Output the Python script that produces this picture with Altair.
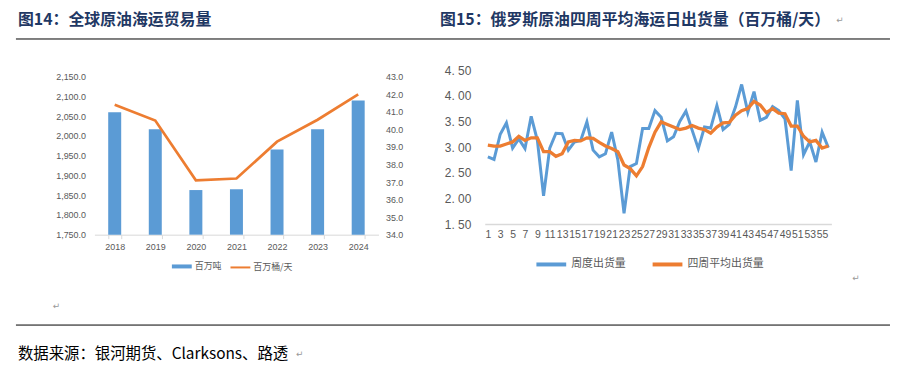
import altair as alt
import pandas as pd

W, H = 888, 355
BLUE = "#5B9BD5"
ORANGE = "#ED7D31"
GREY = "#595959"
CJK = "Noto Sans CJK SC"
NUM = "Liberation Sans"

# ---- left chart data (图14) ----
years = ["2018", "2019", "2020", "2021", "2022", "2023", "2024"]
tons = [2060, 2017, 1863, 1865, 1966, 2017, 2090]          # 百万吨
bbl = [41.4, 40.5, 37.1, 37.2, 39.3, 40.55, 42.0]           # 百万桶/天

# ---- right chart data (图15) ----
weeks = list(range(1, 57))
weekly = [2.81, 2.76, 3.25, 3.47, 2.98, 3.16, 2.97, 3.60, 3.13, 2.05,
          2.98, 3.27, 3.26, 2.94, 3.10, 3.13, 3.49, 2.94, 2.81, 2.87,
          3.29, 2.75, 1.71, 2.62, 2.68, 3.36, 3.36, 3.71, 3.58, 3.12,
          3.20, 3.50, 3.70, 3.33, 2.97, 3.39, 3.37, 3.81, 3.34, 3.44,
          3.78, 4.22, 3.68, 4.08, 3.52, 3.58, 3.79, 3.71, 3.55, 2.54,
          3.91, 2.85, 3.10, 2.71, 3.29, 2.99]
avg4 = [3.04, 3.02, 3.02, 3.06, 3.10, 3.21, 3.13, 3.18, 3.18, 2.91,
        2.91, 2.82, 2.87, 3.10, 3.13, 3.12, 3.18, 3.17, 3.09, 3.02,
        2.97, 2.91, 2.65, 2.58, 2.44, 2.62, 2.99, 3.29, 3.49, 3.44,
        3.39, 3.34, 3.37, 3.42, 3.37, 3.34, 3.27, 3.39, 3.47, 3.48,
        3.62, 3.71, 3.75, 3.89, 3.82, 3.67, 3.75, 3.66, 3.65, 3.41,
        3.41, 3.21, 3.10, 3.13, 2.98, 3.02]
odd_weeks = list(range(1, 56, 2))

titles = ["图14：全球原油海运贸易量", "图15：俄罗斯原油四周平均海运日出货量（百万桶/天）"]
source = "数据来源：银河期货、Clarksons、路透"
series_left = ["百万吨", "百万桶/天"]
series_right = ["周度出货量", "四周平均出货量"]

# ---------------- left chart ----------------
left_df = pd.DataFrame({"year": years, "tons": tons, "bbl": bbl,
                        "s1": series_left[0], "s2": series_left[1]})

xL = alt.X("year:O",
           scale=alt.Scale(range=[87, 373], paddingInner=0.68, paddingOuter=0.34),
           axis=alt.Axis(orient="bottom", offset=227 - H, title=None, labelAngle=0,
                         domainColor="#D9D9D9", ticks=True, tickBand="extent",
                         tickSize=4, tickColor="#D9D9D9", labelPadding=4,
                         labelFontSize=9, labelColor=GREY, labelFont=NUM))

bars = alt.Chart(left_df).mark_bar().encode(
    x=xL,
    y=alt.Y("tons:Q",
            scale=alt.Scale(domain=[1750, 2150], range=[227, 68], nice=False,
                            zero=False, clamp=True),
            axis=alt.Axis(orient="left", offset=-87, title=None,
                          values=list(range(1750, 2151, 50)), format=",.1f",
                          domain=False, ticks=False, grid=False, labelPadding=9,
                          labelFontSize=9, labelColor=GREY, labelFont=NUM)),
    color=alt.Color("s1:N",
                    scale=alt.Scale(domain=[series_left[0]], range=[BLUE]),
                    legend=alt.Legend(orient="none", legendX=165, legendY=249, title=None,
                                      symbolType="M-1,-0.2H1V0.2H-1Z", symbolSize=400,
                                      symbolStrokeWidth=0, labelOffset=3, padding=0,
                                      labelFontSize=9, labelColor=GREY, labelFont=CJK)),
)

lineL = alt.Chart(left_df).mark_line(strokeWidth=2.7).encode(
    x=alt.X("year:O"),
    y=alt.Y("bbl:Q",
            scale=alt.Scale(domain=[34, 43], range=[227, 68], nice=False, zero=False),
            axis=alt.Axis(orient="right", offset=373 - W, title=None,
                          values=list(range(34, 44)), format=".1f",
                          domain=False, ticks=False, grid=False, labelPadding=7,
                          labelFontSize=9, labelColor=GREY, labelFont=NUM)),
    color=alt.Color("s2:N",
                    scale=alt.Scale(domain=[series_left[1]], range=[ORANGE]),
                    legend=alt.Legend(orient="none", legendX=223, legendY=249, title=None,
                                      symbolType="stroke", symbolSize=400,
                                      symbolStrokeWidth=2, labelOffset=2, padding=0,
                                      labelFontSize=9, labelColor=GREY, labelFont=CJK)),
)

left = alt.layer(bars, lineL).resolve_scale(y="independent", color="independent")

# ---------------- right chart ----------------
right_df = pd.DataFrame({
    "week": weeks + weeks,
    "val": weekly + avg4,
    "series": [series_right[0]] * len(weeks) + [series_right[1]] * len(weeks),
})

xR = alt.X("week:O",
           scale=alt.Scale(type="point", range=[480, 829], padding=0.5),
           axis=alt.Axis(orient="bottom", offset=216.3 - H, title=None, values=odd_weeks,
                         labelAngle=0, labelOverlap=False, ticks=False,
                         domainColor="#D9D9D9", domainWidth=1.5, labelPadding=6,
                         labelFontSize=10.5, labelColor=GREY, labelFont=NUM))
yR = alt.Y("val:Q",
           scale=alt.Scale(domain=[1.5, 4.5], range=[216.3, 61.3], nice=False, zero=False),
           axis=alt.Axis(orient="left", offset=-480, title=None,
                         values=[1.5, 2.0, 2.5, 3.0, 3.5, 4.0, 4.5],
                         labelExpr="replace(format(datum.value, '.2f'), '.', '. ')",
                         domain=False, ticks=False, grid=False, labelPadding=14,
                         labelFontSize=12, labelColor=GREY, labelFont=NUM))
colR = alt.Color("series:N",
                 scale=alt.Scale(domain=series_right, range=[BLUE, ORANGE]),
                 legend=alt.Legend(orient="none", legendX=530, legendY=240, title=None,
                                   direction="horizontal", symbolType="stroke",
                                   symbolSize=900, symbolStrokeWidth=4,
                                   columnPadding=19, labelOffset=3, padding=0,
                                   labelFontSize=11, labelColor=GREY, labelFont=CJK))

baseR = alt.Chart(right_df).encode(x=xR, y=yR, color=colR)
lineW = baseR.mark_line(strokeWidth=3).transform_filter(alt.datum.series == series_right[0])
lineA = baseR.mark_line(strokeWidth=3.3).transform_filter(alt.datum.series == series_right[1])
right = alt.layer(lineW, lineA)

# ---------------- page decoration ----------------
one = pd.DataFrame({"k": [0]})

def text_layer(txt, x, y, size, weight="normal", color="#000000", font=CJK):
    return alt.Chart(pd.DataFrame({"t": [txt]})).mark_text(
        align="left", baseline="middle", font=font, fontSize=size,
        fontWeight=weight, color=color
    ).encode(x=alt.value(x), y=alt.value(y), text="t:N")

def hrule(y):
    return alt.Chart(one).mark_rule(color="#000000", strokeWidth=1).encode(
        x=alt.value(8), x2=alt.value(W), y=alt.value(y))

decor = [
    text_layer(titles[0], 10, 11, 16, "bold", "#1F3864"),
    text_layer(titles[1], 435, 11, 16, "bold", "#1F3864"),
    hrule(30),
    hrule(318),
    text_layer(source, 10, 347, 15.5, "normal", "#000000"),
    text_layer("↵", 834, 11, 9, "normal", "#999999", "DejaVu Sans"),
    text_layer("↵", 45, 299, 9, "normal", "#999999", "DejaVu Sans"),
    text_layer("↵", 850, 271, 9, "normal", "#999999", "DejaVu Sans"),
    text_layer("↵", 290, 347, 9, "normal", "#999999", "DejaVu Sans"),
]

chart = alt.layer(left, right, *decor).resolve_scale(
    x="independent", y="independent", color="independent"
).properties(
    width=W, height=H, padding=0,
    autosize=alt.AutoSizeParams(type="none"),
    background="white",
).configure_view(stroke=None)

chart.save("out.html", embed_options={"renderer": "svg", "actions": False})
